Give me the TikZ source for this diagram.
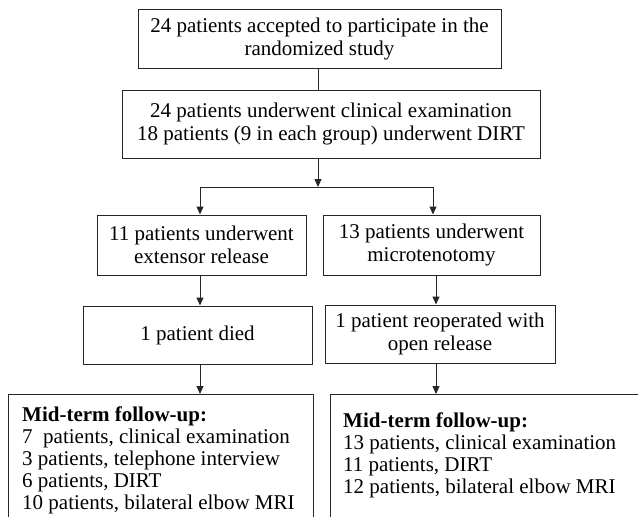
\documentclass[tikz,border=0pt]{standalone}
\usepackage{fontspec}
\setmainfont{Liberation Serif}
\usetikzlibrary{arrows.meta,calc}
\begin{document}
\begin{tikzpicture}[x=1pt,y=-1pt,
  box/.style={draw=black!85, line width=1pt, inner sep=0pt, align=center, font=\fontsize{21}{23}\selectfont},
  frame/.style={draw=black!85, line width=1pt, inner sep=0pt, anchor=north west},
  arr/.style={draw=black!85, line width=1pt, -{Triangle[length=8pt,width=7pt]}},
  ln/.style={draw=black!85, line width=1pt},
  lst/.style={inner sep=0pt, anchor=north west, align=left, font=\fontsize{21}{22}\selectfont}]
\clip (0,0) rectangle (638,517);
\node[box, minimum width=363pt, minimum height=59pt] (b1) at (319.5,38.5) {24 patients accepted to participate in the\\randomized study};
\node[box, minimum width=418pt, minimum height=68pt] (b2) at (331,124) {24 patients underwent clinical examination\\18 patients (9 in each group) underwent DIRT};
\node[box, minimum width=209pt, minimum height=60pt] (b3l) at (201.5,245) {11 patients underwent\\extensor release};
\node[box, minimum width=217pt, minimum height=60pt] (b3r) at (431.5,245) {13 patients underwent\\microtenotomy};
\node[box, minimum width=229pt, minimum height=58pt] (b4l) at (197.5,335) {1 patient died};
\node[box, minimum width=230pt, minimum height=58pt] (b4r) at (440,334) {1 patient reoperated with\\open release};
\node[frame, minimum width=305pt, minimum height=140pt] (b5l) at (8,394) {};
\node[frame, minimum width=330pt, minimum height=140pt] (b5r) at (330,394) {};
\node[lst] (t5l) at (22,406.5) {\textbf{Mid-term follow-up:}\\7\ \ patients, clinical examination\\3 patients, telephone interview\\6 patients, DIRT\\10 patients, bilateral elbow MRI};
\node[lst] (t5r) at (343,412.5) {\textbf{Mid-term follow-up:}\\13 patients, clinical examination\\11 patients, DIRT\\12 patients, bilateral elbow MRI};
\coordinate (j) at (318,187);
\coordinate (jl) at (200,187);
\coordinate (jr) at (433,187);
\coordinate (rr) at (436,0);
\draw[ln] (b1.south -| j) -- (b2.north -| j);
\draw[arr] (b2.south -| j) -- (j);
\draw[ln] (jl) -- (jr);
\draw[arr] (jl) -- (b3l.north -| jl);
\draw[arr] (jr) -- (b3r.north -| jr);
\draw[arr] (b3l.south -| jl) -- (b4l.north -| jl);
\draw[arr] (b4l.south -| jl) -- (b5l.north -| jl);
\draw[arr] (b3r.south -| rr) -- (b4r.north -| rr);
\draw[arr] (b4r.south -| rr) -- (b5r.north -| rr);
\end{tikzpicture}
\end{document}
